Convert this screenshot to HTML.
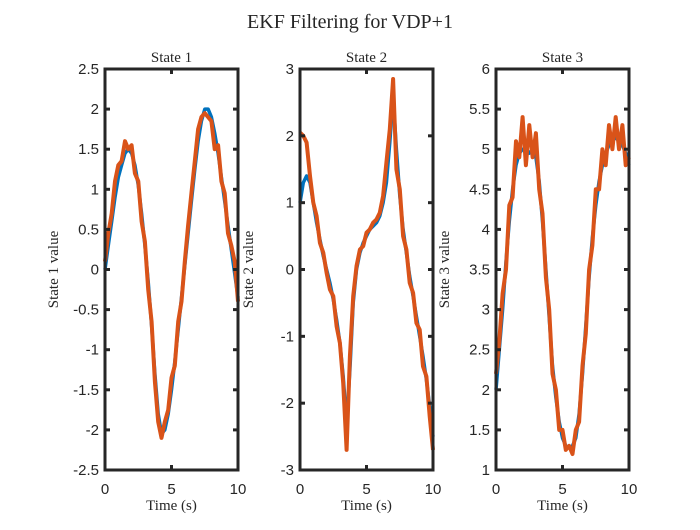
<!DOCTYPE html>
<html><head><meta charset="utf-8"><style>
body{margin:0;background:#fff}
svg text{fill:#262626}
.t{font-family:"Liberation Serif",serif}
.k{font-family:"Liberation Sans",sans-serif;font-size:15px}
</style></head><body>
<svg id="c" width="700" height="525" xmlns="http://www.w3.org/2000/svg">
<rect width="700" height="525" fill="#fff"/>
<text class="t" x="350" y="28" text-anchor="middle" font-size="20">EKF Filtering for VDP+1</text>
</svg>
<script>
const times=[0,0.25,0.5,0.75,1,1.25,1.5,1.75,2,2.25,2.5,2.75,3,3.25,3.5,3.75,4,4.25,4.5,4.75,5,5.25,5.5,5.75,6,6.25,6.5,6.75,7,7.25,7.5,7.75,8,8.25,8.5,8.75,9,9.25,9.5,9.75,10];
const s1True=[0,0.3,0.6,0.9,1.15,1.3,1.45,1.5,1.45,1.3,1.05,0.7,0.3,-0.15,-0.7,-1.3,-1.8,-2.05,-2.0,-1.8,-1.5,-1.15,-0.75,-0.35,0.05,0.45,0.85,1.25,1.6,1.85,2.0,2.0,1.9,1.7,1.45,1.15,0.85,0.55,0.25,-0.05,-0.35];
const s1Est=[0.1,0.45,0.7,1.1,1.3,1.35,1.6,1.5,1.55,1.2,1.1,0.6,0.35,-0.25,-0.65,-1.4,-1.9,-2.1,-1.9,-1.75,-1.35,-1.2,-0.65,-0.4,0.1,0.55,0.95,1.35,1.75,1.9,1.95,1.9,1.85,1.5,1.55,1.1,0.95,0.45,0.3,0.1,-0.4];
const s2True=[1.0,1.3,1.4,1.3,1.0,0.7,0.45,0.2,0,-0.2,-0.45,-0.75,-1.1,-1.6,-2.3,-1.5,-0.5,0,0.25,0.4,0.5,0.6,0.65,0.7,0.8,1.0,1.3,1.9,2.6,1.8,1.1,0.6,0.25,-0.1,-0.4,-0.7,-1.0,-1.3,-1.65,-2.05,-2.5];
const s2Est=[2.05,2.0,1.9,1.4,1.0,0.8,0.4,0.25,-0.05,-0.3,-0.4,-0.85,-1.1,-1.7,-2.7,-1.3,-0.4,0.05,0.3,0.35,0.55,0.6,0.7,0.75,0.85,1.1,1.6,2.1,2.85,1.5,1.2,0.5,0.3,-0.2,-0.35,-0.8,-0.9,-1.45,-1.6,-2.2,-2.7];
const s3True=[2.0,2.5,3.0,3.6,4.1,4.5,4.8,4.95,5.0,5.0,4.95,5.0,4.9,4.6,4.1,3.5,2.9,2.3,1.9,1.6,1.4,1.3,1.28,1.3,1.4,1.7,2.2,2.8,3.4,3.9,4.3,4.6,4.8,4.95,5.05,5.1,5.15,5.1,5.05,4.95,4.8];
const s3Est=[2.2,2.6,3.2,3.5,4.3,4.4,5.1,4.9,5.4,4.8,5.3,4.9,5.2,4.5,4.2,3.4,3.0,2.2,2.0,1.5,1.5,1.25,1.3,1.2,1.5,1.6,2.3,2.7,3.5,3.8,4.5,4.5,5.0,4.8,5.3,5.0,5.4,5.0,5.3,4.8,4.9];
const xTicks=[0,5,10];
const panels=[
 {name:'state-1',title:'State 1',ylab:'State 1 value',x0:105,ymin:-2.5,ymax:2.5,yt:[-2.5,-2,-1.5,-1,-0.5,0,0.5,1,1.5,2,2.5],tr:s1True,es:s1Est},
 {name:'state-2',title:'State 2',ylab:'State 2 value',x0:300,ymin:-3,ymax:3,yt:[-3,-2,-1,0,1,2,3],tr:s2True,es:s2Est},
 {name:'state-3',title:'State 3',ylab:'State 3 value',x0:496,ymin:1,ymax:6,yt:[1,1.5,2,2.5,3,3.5,4,4.5,5,5.5,6],tr:s3True,es:s3Est}
];
const svg=document.getElementById('c');const NS='http://www.w3.org/2000/svg';
function mk(t,a,p){const e=document.createElementNS(NS,t);for(const k in a)e.setAttribute(k,a[k]);(p||svg).appendChild(e);return e;}
const W=133,yTop=69,yBot=470;
panels.forEach(p=>{
 const g=mk('g',{});
 
 
 const sx=v=>p.x0+v/10*W, sy=v=>yBot-(v-p.ymin)/(p.ymax-p.ymin)*(yBot-yTop);
 const line=(arr,col,w,nm)=>{const d=arr.map((v,i)=>(i?'L':'M')+sx(times[i]).toFixed(1)+','+sy(v).toFixed(1)).join('');
  const l=mk('path',{d:d,fill:'none',stroke:col,'stroke-width':w,'stroke-linejoin':'round'},g);
  
  };
 line(p.tr,'#0072BD',3.5,p.name+'-true-line');
 line(p.es,'#D95319',4,p.name+'-estimate-line');
 mk('rect',{x:p.x0,y:yTop,width:W,height:yBot-yTop,fill:'none',stroke:'#262626','stroke-width':3},g);
 p.yt.forEach(v=>{const y=sy(v);
  mk('line',{x1:p.x0,x2:p.x0+5,y1:y,y2:y,stroke:'#262626','stroke-width':3},g);
  mk('line',{x1:p.x0+W-5,x2:p.x0+W,y1:y,y2:y,stroke:'#262626','stroke-width':3},g);
  const t=mk('text',{x:p.x0-6,y:y+5,'text-anchor':'end',class:'k'},g);t.textContent=v;
  
  });
 xTicks.forEach(v=>{const x=sx(v);
  mk('line',{x1:x,x2:x,y1:yBot,y2:yBot-5,stroke:'#262626','stroke-width':3},g);
  mk('line',{x1:x,x2:x,y1:yTop,y2:yTop+5,stroke:'#262626','stroke-width':3},g);
  const t=mk('text',{x:x,y:yBot+24,'text-anchor':'middle',class:'k'},g);t.textContent=v;
  
  });
 const tt=mk('text',{x:p.x0+W/2,y:62,'text-anchor':'middle',class:'t','font-size':15},g);tt.textContent=p.title;
 
 
 const xl=mk('text',{x:p.x0+W/2,y:510,'text-anchor':'middle',class:'t','font-size':15},g);xl.textContent='Time (s)';
 
 
 const cx=p.x0-47,cy=(yTop+yBot)/2;
 const yl=mk('text',{x:cx,y:cy,'text-anchor':'middle',class:'t','font-size':15,transform:'rotate(-90 '+cx+' '+cy+')'},g);yl.textContent=p.ylab;
 
 
});
</script>
</body></html>
